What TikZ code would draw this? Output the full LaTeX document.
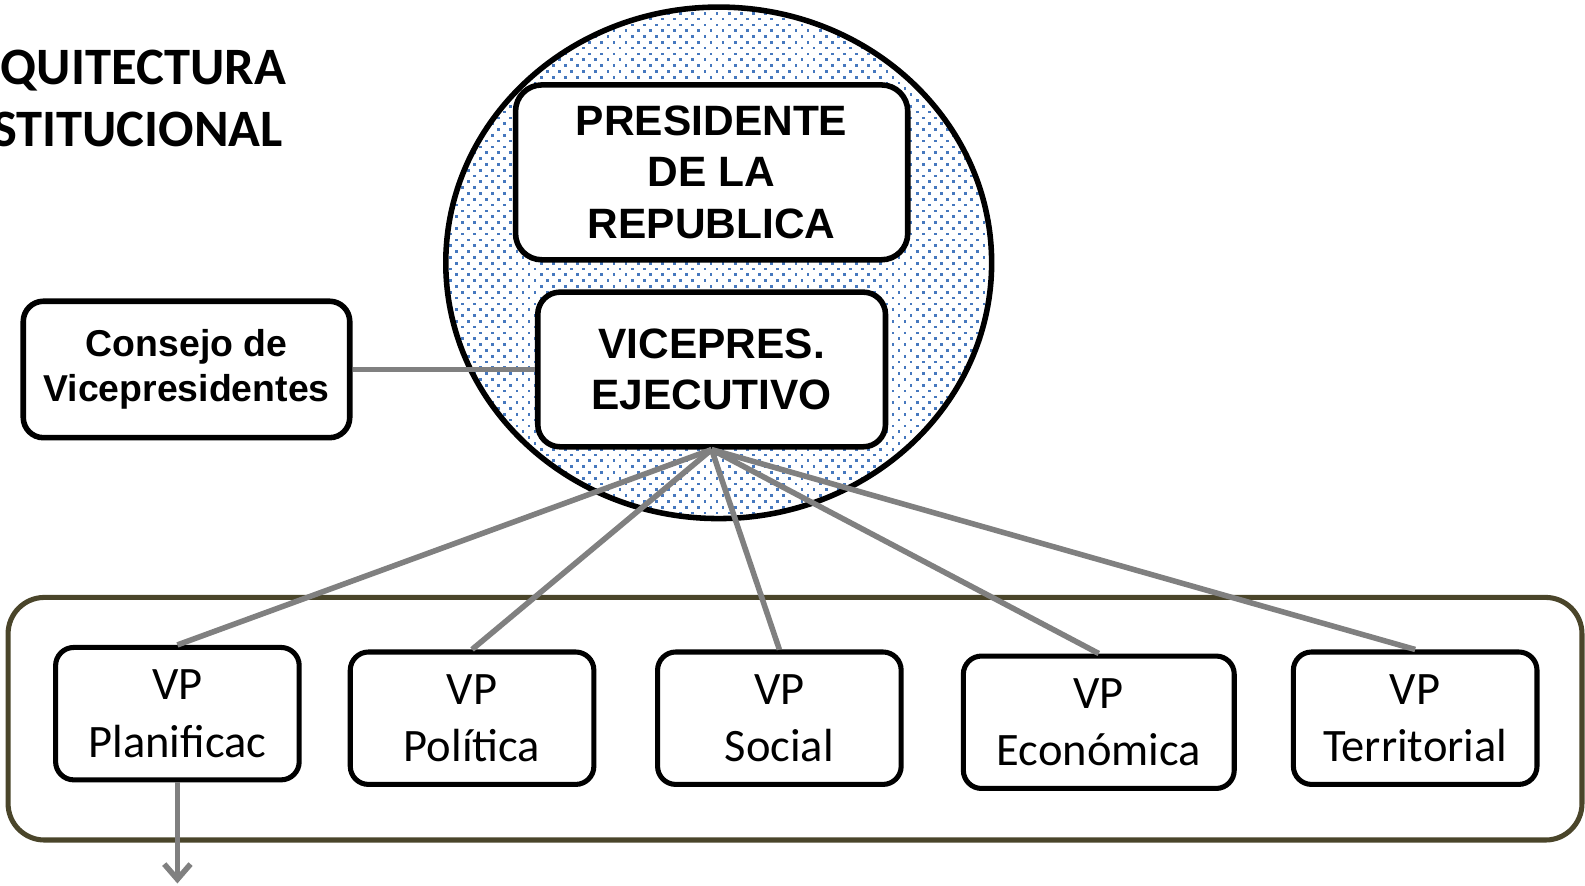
\documentclass[tikz,border=0pt]{standalone}
\usepackage{fontspec}
\setmainfont{Carlito}
\newfontfamily\arialf{Liberation Sans}
\usetikzlibrary{arrows.meta}
\definecolor{dotblue}{RGB}{70,120,190}
\definecolor{olivebrd}{RGB}{74,69,42}
\definecolor{conngray}{RGB}{128,128,128}
\begin{document}
\begin{tikzpicture}[x=1pt,y=-1pt,
  bigbox/.style={draw=black, line width=5.5pt, rounded corners=26pt, fill=white,
    font=\arialf\bfseries\fontsize{42}{51}\selectfont, align=center, inner sep=0pt},
  vpbox/.style={draw=black, line width=5pt, rounded corners=18pt, fill=white,
    font=\fontsize{46}{57}\selectfont, align=center, inner sep=0pt,
    minimum width=241pt, minimum height=131pt},
  conn/.style={draw=conngray, line width=5.5pt},
  titletext/.style={anchor=base east, inner sep=0pt, font=\bfseries\fontsize{52}{62}\selectfont}]
\useasboundingbox (0,0) rectangle (1568,876);
% title
\node[titletext] (t1) at (283,84) {QUITECTURA};
\node[titletext] (t2) at (280,145) {STITUCIONAL};
% circle with dots
\fill[white] (711,260) ellipse [x radius=270pt, y radius=253pt];
\begin{scope}
  \clip (711,260) ellipse [x radius=270pt, y radius=253pt];
  \foreach \j in {0,...,90} {
    \pgfmathsetmacro\off{mod(\j,2)*6}
    \foreach \i in {0,...,46} {
      \fill[dotblue] ({438+\off+\i*12},{6+\j*5.75}) rectangle ++(2.7,2.7);
    }
  }
\end{scope}
\draw[line width=5.5pt] (711,260) ellipse [x radius=270pt, y radius=253pt];
% boxes in circle
\node[bigbox, minimum width=388pt, minimum height=173pt] (pres) at (704,170.5) {PRESIDENTE\\DE LA\\REPUBLICA};
\node[bigbox, rounded corners=22pt, minimum width=344pt, minimum height=153pt] (vice) at (704,365.5) {VICEPRES.\\EJECUTIVO};
\node[bigbox, rounded corners=20pt, minimum width=323pt, minimum height=135pt,
  font=\arialf\bfseries\fontsize{37}{45}\selectfont] (cons) at (184.5,365.5) {Consejo de\\Vicepresidentes};
\draw[conn] (cons.east) -- (vice.west);
% container
\node[draw=olivebrd, line width=5pt, rounded corners=36pt, minimum width=1557pt, minimum height=240pt, inner sep=0pt] (panel) at (786.5,711) {};
% VP boxes
\node[vpbox] (vp1) at (175.5,706) {VP\\Planificac};
\node[vpbox] (vp2) at (467,710.5) {VP\\Política};
\node[vpbox] (vp3) at (771,710.5) {VP\\Social};
\node[vpbox, minimum width=268pt] (vp4) at (1087,714.5) {VP\\Económica};
\node[vpbox] (vp5) at (1400,710.5) {VP\\Territorial};
% connectors
\foreach \v in {vp1,vp2,vp3,vp4,vp5} {
  \draw[conn] (vice.south) -- (\v.north);
}
\coordinate (arrowend) at (176,874);
\draw[conn, -{Straight Barb[length=15pt,width=26pt]}] (vp1.south) -- (vp1.south |- arrowend);
\end{tikzpicture}
\end{document}
